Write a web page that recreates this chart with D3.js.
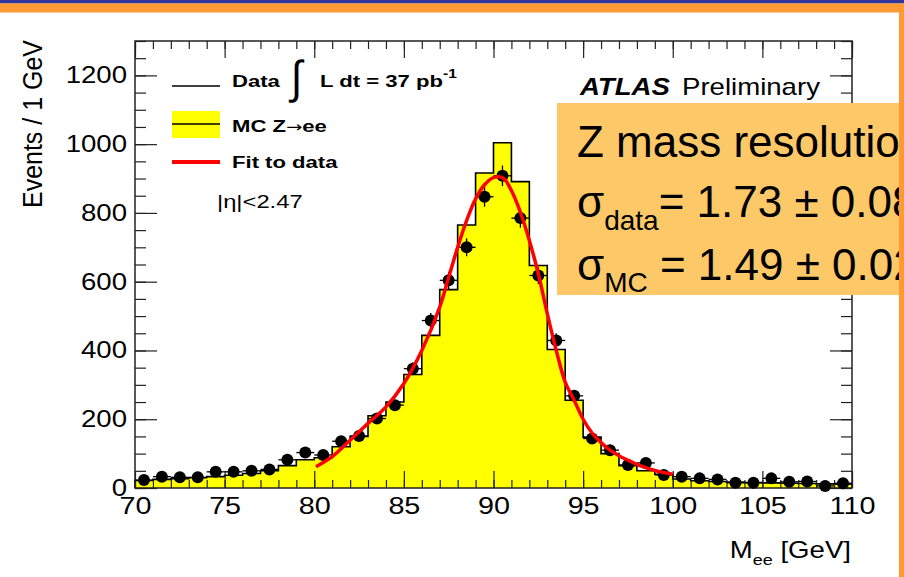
<!DOCTYPE html>
<html>
<head>
<meta charset="utf-8">
<script src="https://cdn.jsdelivr.net/npm/d3@7"></script>
<style>
html,body{margin:0;padding:0;background:#fff;}
svg{display:block;}
text{font-family:"Liberation Sans",Arial,sans-serif;}
</style>
</head>
<body>
<svg id="chart" width="904" height="577"></svg>
<script>
// ---------------- data ----------------
const bins = [70,71,72,73,74,75,76,77,78,79,80,81,82,83,84,85,86,87,88,89,
              90,91,92,93,94,95,96,97,98,99,100,101,102,103,104,105,106,107,108,109];
const mcEvents = [22,25,27,30,33,37,42,50,65,82,88,120,150,210,250,330,444,577,765,916,
                  1004,891,647,403,255,148,100,65,50,40,26,21,19,17,16,15,14,13,12,11];
const dataEvents = [23,33,31,31,47,47,50,54,82,103,96,136,151,202,241,347,487,604,700,847,
                    908,785,618,429,268,144,110,67,73,38,33,28,25,15,15,28,18,19,6,14];
const dataErr = [5,6,6,6,7,7,7,7,9,10,10,12,12,14,16,19,22,25,26,29,
                 30,28,25,21,16,12,10,8,9,6,6,5,5,4,4,5,4,4,2,4];
const fitMass = [80.1,81,82,83,84,85,86,87,87.5,88,88.5,89,89.5,90,90.3,90.6,91,91.5,92,92.5,
                 93,93.5,94,94.5,95,95.5,96,96.5,97,97.5,98,98.5,99,99.5,100];
const fitEvents = [62,91,139,188,236,304,400,526,613,700,778,841,882,903,905,899,865,802,720,623,
                   507,400,308,255,200,160,132,110,94,81,69,59,51,45,40];
const xTickLabels = [70,75,80,85,90,95,100,105,110];
const yTickLabels = [0,200,400,600,800,1000,1200];
const binWidth = 1;

// ---------------- setup ----------------
const svg = d3.select("#chart");
const L = 135, R = 852, T = 41, B = 488;
const x = d3.scaleLinear().domain([70,110]).range([L,R]);
const y = d3.scaleLinear().domain([0,1300]).range([B,T]);

function stext(parent, px, py, sx, str, size, opts = {}) {
  const g = parent.append("g").attr("transform", `translate(${px},${py}) scale(${sx},1)${opts.rot ? " rotate(" + opts.rot + ")" : ""}`);
  const t = g.append("text").attr("x",0).attr("y",0)
    .attr("font-size", size)
    .attr("font-weight", opts.weight || "normal")
    .attr("font-style", opts.style || "normal")
    .attr("text-anchor", opts.anchor || "start")
    .attr("fill", opts.fill || "#000");
  if (str !== null) t.text(str);
  return t;
}

svg.append("rect").attr("x",0).attr("y",0).attr("width",904).attr("height",577).attr("fill","#fff");

// ---------------- MC histogram ----------------
const histPts = bins.map((b,i)=>({x:b, v:mcEvents[i]}));
histPts.push({x: bins[bins.length-1] + binWidth, v: mcEvents[mcEvents.length-1]});
svg.append("path").datum(histPts)
  .attr("d", d3.area().curve(d3.curveStepAfter).x(d=>x(d.x)).y0(y(0)).y1(d=>y(d.v)))
  .attr("fill","#ffff00");
const outlinePts = [{x:bins[0], v:0}, ...histPts, {x: bins[bins.length-1]+binWidth, v:0}];
svg.append("path").datum(outlinePts)
  .attr("d", d3.line().curve(d3.curveStepAfter).x(d=>x(d.x)).y(d=>y(d.v)))
  .attr("fill","none").attr("stroke","#000").attr("stroke-width",1.6);

// ---------------- axes ----------------
const axG = svg.append("g").attr("class","axes");
function styleAxis(g){ g.select(".domain").remove(); g.selectAll("line").attr("stroke","#222").attr("stroke-width",1.2); }
axG.append("g").attr("transform",`translate(0,${B})`)
  .call(d3.axisBottom(x).tickValues(x.ticks(40)).tickSize(-8).tickFormat("")).call(styleAxis);
axG.append("g").attr("transform",`translate(0,${T})`)
  .call(d3.axisTop(x).tickValues(x.ticks(40)).tickSize(-8).tickFormat("")).call(styleAxis);
axG.append("g").attr("transform",`translate(${L},0)`)
  .call(d3.axisLeft(y).tickValues(y.ticks(26)).tickSize(-11).tickFormat("")).call(styleAxis);
axG.append("g").attr("transform",`translate(${R},0)`)
  .call(d3.axisRight(y).tickValues(y.ticks(26)).tickSize(-11).tickFormat("")).call(styleAxis);
const xb = axG.append("g").attr("transform",`translate(0,${B})`)
  .call(d3.axisBottom(x).tickValues(xTickLabels).tickSize(-17).tickPadding(10).tickFormat(d3.format("d")));
styleAxis(xb);
xb.selectAll("text").attr("font-size",23).attr("fill","#000")
  .attr("font-family","Liberation Sans, Arial, sans-serif")
  .attr("transform","scale(1.25,1)");
axG.append("g").attr("transform",`translate(0,${T})`)
  .call(d3.axisTop(x).tickValues(xTickLabels).tickSize(-17).tickFormat("")).call(styleAxis);
const yl = axG.append("g").attr("transform",`translate(${L},0)`)
  .call(d3.axisLeft(y).tickValues(yTickLabels).tickSize(-22).tickFormat(d3.format("d")));
styleAxis(yl);
yl.selectAll("text").attr("font-size",23).attr("fill","#000").attr("x",0)
  .attr("font-family","Liberation Sans, Arial, sans-serif")
  .attr("transform","translate(-8,0) scale(1.2,1)");
axG.append("g").attr("transform",`translate(${R},0)`)
  .call(d3.axisRight(y).tickValues(yTickLabels).tickSize(-22).tickFormat("")).call(styleAxis);
svg.append("rect").attr("x",L).attr("y",T).attr("width",R-L).attr("height",B-T)
  .attr("fill","none").attr("stroke","#222").attr("stroke-width",1.5);

// ---------------- data points ----------------
const dG = svg.append("g");
bins.forEach((b,i)=>{
  const cx = x(b + binWidth/2), cy = y(dataEvents[i]);
  dG.append("line").attr("x1",x(b)).attr("x2",x(b+binWidth)).attr("y1",cy).attr("y2",cy)
    .attr("stroke","#000").attr("stroke-width",1.3);
  dG.append("line").attr("x1",cx).attr("x2",cx)
    .attr("y1",y(dataEvents[i]-dataErr[i])).attr("y2",y(dataEvents[i]+dataErr[i]))
    .attr("stroke","#000").attr("stroke-width",1.3);
  dG.append("circle").attr("cx",cx).attr("cy",cy).attr("r",6).attr("fill","#000");
});

// ---------------- fit ----------------
svg.append("path").datum(fitMass.map((m,i)=>[m, fitEvents[i]]))
  .attr("d", d3.line().curve(d3.curveCatmullRom).x(d=>x(d[0])).y(d=>y(d[1])))
  .attr("fill","none").attr("stroke","#ff0000").attr("stroke-width",3.5);

// ---------------- axis titles ----------------
stext(svg, 42, 124, 1.13, "Events / 1 GeV", 25, {anchor:"middle", rot:-90});
const xt = stext(svg, 851, 558, 1.2, null, 23, {anchor:"end"});
xt.append("tspan").text("M");
xt.append("tspan").attr("font-size",15).attr("dy",7).text("ee");
xt.append("tspan").attr("dy",-7).text(" [GeV]");

// ---------------- legend ----------------
svg.append("line").attr("x1",172).attr("x2",220).attr("y1",86).attr("y2",86).attr("stroke","#000").attr("stroke-width",1.6);
svg.append("rect").attr("x",172).attr("y",111).attr("width",48).attr("height",27).attr("fill","#ffff00");
svg.append("line").attr("x1",172).attr("x2",220).attr("y1",124).attr("y2",124).attr("stroke","#000").attr("stroke-width",1.6);
svg.append("line").attr("x1",172).attr("x2",220).attr("y1",162).attr("y2",162).attr("stroke","#ff0000").attr("stroke-width",4);
stext(svg, 232, 87, 1.3, "Data", 17, {weight:"bold"});
const mcl = stext(svg, 232, 132, 1.3, null, 17, {weight:"bold"});
mcl.append("tspan").text("MC Z");
mcl.append("tspan").attr("font-family","DejaVu Sans").attr("font-weight","normal").attr("font-size",15).text("\u2192");
mcl.append("tspan").text("ee");
stext(svg, 232, 168, 1.3, "Fit to data", 17, {weight:"bold"});
stext(svg, 217, 208, 1.25, "|\u03b7|<2.47", 19);
stext(svg, 291, 93, 0.9, "\u222b", 46);
const lum = stext(svg, 320, 87, 1.3, null, 17, {weight:"bold"});
lum.append("tspan").text("L dt = 37 pb");
lum.append("tspan").attr("font-size",12).attr("dy",-9).text("-1");

// ATLAS Preliminary
const at = stext(svg, 580, 95, 1.2, null, 23);
at.append("tspan").attr("font-weight","bold").attr("font-style","italic").text("ATLAS");
at.append("tspan").attr("x",85).text("Preliminary");

// ---------------- resolution box ----------------
svg.append("rect").attr("x",557).attr("y",103).attr("width",347).attr("height",192).attr("fill","#fcc868");
const bx = svg.append("g");
bx.append("text").attr("x",577).attr("y",157).attr("font-size",44).text("Z mass resolution");
const l2 = bx.append("text").attr("x",577).attr("y",217).attr("font-size",44);
l2.append("tspan").text("\u03c3");
l2.append("tspan").attr("font-size",28).attr("dy",13).text("data");
l2.append("tspan").attr("dy",-13).text("= 1.73 \u00b1 0.08");
const l3 = bx.append("text").attr("x",577).attr("y",280).attr("font-size",44);
l3.append("tspan").text("\u03c3");
l3.append("tspan").attr("font-size",28).attr("dy",12).text("MC");
l3.append("tspan").attr("dy",-12).text(" = 1.49 \u00b1 0.02");

// ---------------- slide decoration ----------------
svg.append("rect").attr("x",0).attr("y",0).attr("width",904).attr("height",3.5).attr("fill","#333399");
svg.append("rect").attr("x",0).attr("y",3.5).attr("width",904).attr("height",9).attr("fill","#ff9933");
svg.append("rect").attr("x",899).attr("y",12).attr("width",5).attr("height",565).attr("fill","#ff9933");
</script>
</body>
</html>
